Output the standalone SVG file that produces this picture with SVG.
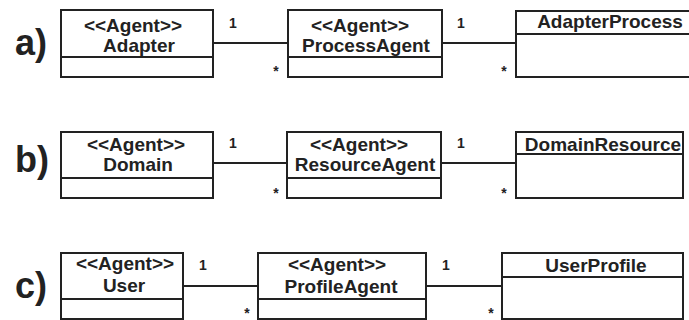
<svg xmlns="http://www.w3.org/2000/svg" width="689" height="320" viewBox="0 0 689 320">
  <style>
    .box { fill: #ffffff; stroke: #222222; stroke-width: 2; }
    .sep { stroke: #222222; stroke-width: 2; }
    .link { stroke: #222222; stroke-width: 2; fill: none; }
    .t { font-family: "Liberation Sans", Arial, sans-serif; font-size: 19px; font-weight: bold; fill: #222222; text-anchor: middle; }
    .mult { font-family: "Liberation Sans", Arial, sans-serif; font-size: 14px; font-weight: bold; fill: #222222; text-anchor: middle; }
    .tag { font-family: "Liberation Sans", Arial, sans-serif; font-size: 36px; font-weight: bold; fill: #222222; }
  </style>
  <rect width="689" height="320" fill="#ffffff"/>

  <!-- row labels -->
  <text class="tag" x="15" y="55">a)</text>
  <text class="tag" x="15" y="172">b)</text>
  <text class="tag" x="15" y="298">c)</text>

  <!-- associations -->
  <g id="connectors">
    <line class="link" x1="213" y1="43" x2="288" y2="43"/>
    <line class="link" x1="442" y1="43" x2="516" y2="43"/>
    <line class="link" x1="213" y1="163" x2="287" y2="163"/>
    <line class="link" x1="441" y1="163" x2="516" y2="163"/>
    <line class="link" x1="183" y1="286" x2="258" y2="286"/>
    <line class="link" x1="426" y1="286" x2="502" y2="286"/>
    <text class="mult" x="233" y="28">1</text>
    <text class="mult" x="276" y="76">*</text>
    <text class="mult" x="461" y="28">1</text>
    <text class="mult" x="504" y="76">*</text>
    <text class="mult" x="233" y="148">1</text>
    <text class="mult" x="276" y="198">*</text>
    <text class="mult" x="461" y="148">1</text>
    <text class="mult" x="504" y="198">*</text>
    <text class="mult" x="203" y="270">1</text>
    <text class="mult" x="247" y="318">*</text>
    <text class="mult" x="446" y="270">1</text>
    <text class="mult" x="491" y="318">*</text>
  </g>

  <!-- a) -->
  <g id="adapter">
    <rect class="box" x="61" y="10" width="152" height="67"/>
    <line class="sep" x1="61" y1="57" x2="213" y2="57"/>
    <text class="t" x="133" y="32">&lt;&lt;Agent&gt;&gt;</text>
    <text class="t" x="139" y="52">Adapter</text>
  </g>
  <g id="process-agent">
    <rect class="box" x="288" y="10" width="154" height="67"/>
    <line class="sep" x1="288" y1="57" x2="442" y2="57"/>
    <text class="t" x="360" y="32">&lt;&lt;Agent&gt;&gt;</text>
    <text class="t" x="366" y="52">ProcessAgent</text>
  </g>
  <g id="adapter-process">
    <rect class="box" x="516" y="11" width="190" height="66"/>
    <line class="sep" x1="516" y1="34" x2="706" y2="34"/>
    <text class="t" x="610" y="28">AdapterProcess</text>
  </g>

  <!-- b) -->
  <g id="domain">
    <rect class="box" x="61" y="132" width="152" height="66"/>
    <line class="sep" x1="61" y1="178" x2="213" y2="178"/>
    <text class="t" x="136" y="151">&lt;&lt;Agent&gt;&gt;</text>
    <text class="t" x="138" y="171">Domain</text>
  </g>
  <g id="resource-agent">
    <rect class="box" x="287" y="132" width="154" height="66"/>
    <line class="sep" x1="287" y1="178" x2="441" y2="178"/>
    <text class="t" x="359" y="151">&lt;&lt;Agent&gt;&gt;</text>
    <text class="t" x="365" y="171">ResourceAgent</text>
  </g>
  <g id="domain-resource">
    <rect class="box" x="516" y="132" width="167" height="66"/>
    <line class="sep" x1="516" y1="154" x2="683" y2="154"/>
    <text class="t" x="603" y="151">DomainResource</text>
  </g>

  <!-- c) -->
  <g id="user">
    <rect class="box" x="61" y="253" width="122" height="66"/>
    <line class="sep" x1="61" y1="299" x2="183" y2="299"/>
    <text class="t" x="125" y="270">&lt;&lt;Agent&gt;&gt;</text>
    <text class="t" x="124" y="292">User</text>
  </g>
  <g id="profile-agent">
    <rect class="box" x="258" y="253" width="168" height="66"/>
    <line class="sep" x1="258" y1="299" x2="426" y2="299"/>
    <text class="t" x="337" y="271">&lt;&lt;Agent&gt;&gt;</text>
    <text class="t" x="341" y="293">ProfileAgent</text>
  </g>
  <g id="user-profile">
    <rect class="box" x="502" y="253" width="181" height="66"/>
    <line class="sep" x1="502" y1="277" x2="683" y2="277"/>
    <text class="t" x="596" y="272">UserProfile</text>
  </g>
</svg>
